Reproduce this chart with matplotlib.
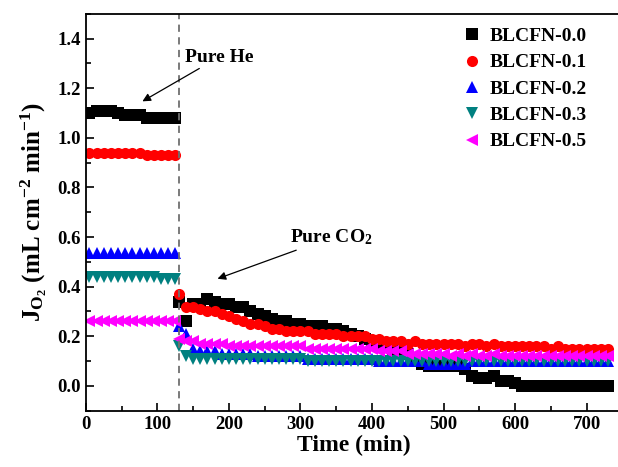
import numpy as np
import matplotlib.pyplot as plt
from matplotlib.ticker import MultipleLocator

plt.rcParams['font.family'] = ['Liberation Serif', 'DejaVu Serif']
plt.rcParams['font.weight'] = 'bold'
plt.rcParams['mathtext.fontset'] = 'custom'
plt.rcParams['mathtext.rm'] = 'Liberation Serif:bold'
plt.rcParams['mathtext.bf'] = 'Liberation Serif:bold'
plt.rcParams['mathtext.it'] = 'Liberation Serif:bold:italic'
plt.rcParams['mathtext.default'] = 'bf'

# pure He segment
t_he = [5, 15, 25, 35, 45, 55, 65, 75, 85, 95, 105, 115, 125]
he_00 = [1.10, 1.11, 1.11, 1.11, 1.10, 1.09, 1.09, 1.09, 1.08, 1.08, 1.08, 1.08, 1.08]
he_01 = [0.94, 0.94, 0.94, 0.94, 0.94, 0.94, 0.94, 0.94, 0.93, 0.93, 0.93, 0.93, 0.93]
he_02 = [0.535, 0.535, 0.535, 0.535, 0.535, 0.535, 0.535, 0.535, 0.535, 0.535, 0.535, 0.535, 0.535]
he_03 = [0.44, 0.44, 0.44, 0.44, 0.44, 0.44, 0.44, 0.44, 0.44, 0.44, 0.43, 0.43, 0.43]
he_05 = [0.26, 0.26, 0.26, 0.26, 0.26, 0.26, 0.26, 0.26, 0.26, 0.26, 0.26, 0.26, 0.26]

# pure CO2 segment, 130..730 min
t_co2 = np.arange(130, 731, 10)
co2_00 = [0.34, 0.26, 0.33, 0.33, 0.35, 0.34, 0.33, 0.33, 0.32, 0.32,
          0.30, 0.29, 0.28, 0.27, 0.26, 0.26, 0.25, 0.25, 0.24, 0.24,
          0.24, 0.23, 0.23, 0.22, 0.21, 0.20, 0.19, 0.18, 0.17, 0.16,
          0.15, 0.14, 0.13, 0.11, 0.09, 0.08, 0.08, 0.08, 0.08, 0.08,
          0.07, 0.04, 0.03, 0.03, 0.04, 0.02, 0.02, 0.01, 0.00, 0.00,
          0.00, 0.00, 0.00, 0.00, 0.00, 0.00, 0.00, 0.00, 0.00, 0.00, 0.00]
co2_01 = [0.37, 0.32, 0.32, 0.31, 0.30, 0.30, 0.29, 0.28, 0.27, 0.26,
          0.25, 0.25, 0.24, 0.23, 0.23, 0.22, 0.22, 0.22, 0.22, 0.21,
          0.21, 0.21, 0.21, 0.20, 0.20, 0.20, 0.20, 0.19, 0.19, 0.18,
          0.18, 0.18, 0.17, 0.18, 0.17, 0.17, 0.17, 0.17, 0.17, 0.17,
          0.16, 0.17, 0.17, 0.16, 0.17, 0.16, 0.16, 0.16, 0.16, 0.16,
          0.16, 0.16, 0.15, 0.16, 0.15, 0.15, 0.15, 0.15, 0.15, 0.15, 0.15]
co2_02 = [0.24, 0.21, 0.15, 0.14, 0.14, 0.14, 0.13, 0.13, 0.13, 0.13,
          0.13, 0.12, 0.12, 0.12, 0.12, 0.12, 0.12, 0.12, 0.11, 0.11,
          0.11, 0.11, 0.11, 0.11, 0.11, 0.11, 0.11, 0.11, 0.10, 0.10,
          0.10, 0.10, 0.10, 0.10, 0.10, 0.09, 0.09, 0.09, 0.09, 0.09,
          0.09, 0.10, 0.10, 0.10, 0.10, 0.10, 0.10, 0.10, 0.10, 0.10,
          0.10, 0.10, 0.10, 0.10, 0.10, 0.10, 0.10, 0.10, 0.10, 0.10, 0.10]
co2_03 = [0.16, 0.12, 0.11, 0.11, 0.11, 0.11, 0.11, 0.11, 0.11, 0.11,
          0.11, 0.11, 0.11, 0.11, 0.11, 0.11, 0.11, 0.11, 0.10, 0.10,
          0.10, 0.10, 0.10, 0.10, 0.10, 0.10, 0.10, 0.10, 0.10, 0.10,
          0.10, 0.10, 0.10, 0.10, 0.10, 0.10, 0.10, 0.10, 0.10, 0.10,
          0.10, 0.10, 0.10, 0.10, 0.10, 0.10, 0.10, 0.10, 0.10, 0.10,
          0.10, 0.10, 0.10, 0.10, 0.10, 0.10, 0.10, 0.10, 0.10, 0.10, 0.10]
co2_05 = [0.19, 0.18, 0.18, 0.17, 0.17, 0.17, 0.17, 0.16, 0.16, 0.16,
          0.16, 0.16, 0.16, 0.16, 0.16, 0.16, 0.16, 0.16, 0.15, 0.15,
          0.15, 0.15, 0.15, 0.15, 0.15, 0.15, 0.15, 0.15, 0.14, 0.14,
          0.14, 0.14, 0.13, 0.13, 0.13, 0.13, 0.13, 0.13, 0.12, 0.13,
          0.12, 0.13, 0.12, 0.12, 0.13, 0.12, 0.12, 0.12, 0.12, 0.12,
          0.12, 0.12, 0.12, 0.12, 0.12, 0.12, 0.12, 0.12, 0.12, 0.12, 0.12]

labels = ['BLCFN-0.0', 'BLCFN-0.1', 'BLCFN-0.2', 'BLCFN-0.3', 'BLCFN-0.5']
colors = ['black', '#ff0000', '#0000ff', '#008080', '#ff00ff']
markers = ['s', 'o', '^', 'v', '<']
he_data = [he_00, he_01, he_02, he_03, he_05]
co2_data = [co2_00, co2_01, co2_02, co2_03, co2_05]

fig = plt.figure(figsize=(6.18, 4.67), dpi=100)
ax = fig.add_axes([0.139, 0.1205, 0.868, 0.850])

for i in range(5):
    t_all = list(t_he) + list(t_co2)
    y_all = list(he_data[i]) + list(co2_data[i])
    ax.plot(t_all, y_all, linestyle='none', marker=markers[i], color=colors[i],
            markersize=8, markeredgewidth=0, label=labels[i])

ax.axvline(130, color='#707070', linestyle=(0, (4, 3)), linewidth=1.3)

ax.annotate('Pure He', xy=(79, 1.147), xytext=(138, 1.325),
            fontsize=14, fontweight='bold', va='center',
            arrowprops=dict(arrowstyle='-|>', color='black', lw=0.9,
                            shrinkA=0, shrinkB=0, mutation_scale=12),
            )
ax.annotate('Pure CO$_2$', xy=(184, 0.432), xytext=(285, 0.598),
            fontsize=14, fontweight='bold', va='center',
            arrowprops=dict(arrowstyle='-|>', color='black', lw=0.9,
                            shrinkA=0, shrinkB=0, mutation_scale=12),
            )

ax.set_xlim(0, 750)
ax.set_ylim(-0.1, 1.5)
ax.xaxis.set_major_locator(MultipleLocator(100))
ax.xaxis.set_minor_locator(MultipleLocator(50))
ax.set_yticks(np.arange(0, 1.41, 0.2))
ax.yaxis.set_minor_locator(MultipleLocator(0.1))
ax.tick_params(which='both', direction='in', width=1.2, labelsize=13.5)
ax.tick_params(which='major', length=6)
ax.tick_params(which='minor', length=3.5)
for s in ax.spines.values():
    s.set_linewidth(1.3)

ax.set_xlabel('Time (min)', fontsize=17, fontweight='bold', labelpad=2)
ax.set_ylabel(r'J$_{O_2}$ (mL cm$^{-2}$ min$^{-1}$)', fontsize=18,
              fontweight='bold', labelpad=6)

ax.legend(loc='upper left', bbox_to_anchor=(0.732, 0.958), bbox_transform=fig.transFigure,
          frameon=False, handletextpad=0.3, labelspacing=0.45,
          handlelength=1.2, borderaxespad=0, prop={'weight': 'bold', 'size': 14})

fig.savefig('out.png', dpi=100)
